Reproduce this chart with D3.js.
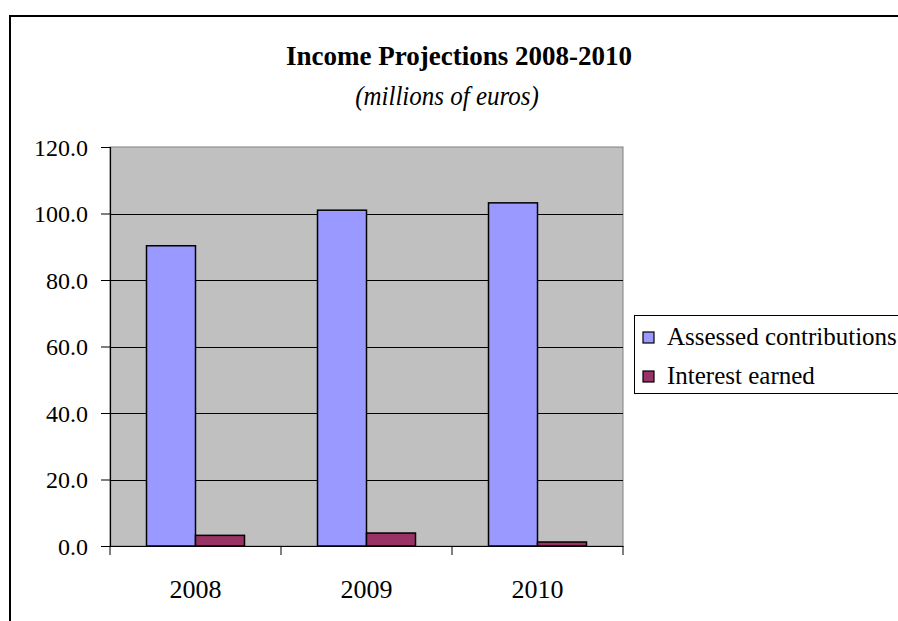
<!DOCTYPE html>
<html>
<head>
<meta charset="utf-8">
<script src="https://cdn.jsdelivr.net/npm/d3@7"></script>
<style>
  body { margin: 0; background: #fff; }
  svg { display: block; font-family: "Liberation Serif", "Times New Roman", serif; }
</style>
</head>
<body>
<div id="chart"></div>
<script>
const years = ['2008', '2009', '2010'];
const seriesNames = ['Assessed contributions', 'Interest earned'];
const assessed = [90.3, 101.0, 103.2];
const interest = [3.2, 3.9, 1.2];
const seriesColors = ['#9999FF', '#993366'];
const yTicks = [0, 20, 40, 60, 80, 100, 120];

const width = 898, height = 621;
const plot = { left: 110, top: 147, right: 623, bottom: 546 };
const serif = '"Liberation Serif", "Times New Roman", serif';

const svg = d3.select('#chart').append('svg')
    .attr('width', width)
    .attr('height', height);

// outer chart frame (runs off the right and bottom edges)
svg.append('rect')
    .attr('x', 10).attr('y', 16)
    .attr('width', 920).attr('height', 640)
    .attr('fill', '#fff')
    .attr('stroke', '#000')
    .attr('stroke-width', 2);

svg.append('text')
    .attr('x', 459).attr('y', 65)
    .attr('text-anchor', 'middle')
    .attr('font-size', 27)
    .attr('font-weight', 'bold')
    .text('Income Projections 2008-2010');

svg.append('text')
    .attr('text-anchor', 'middle')
    .attr('transform', 'translate(447,105) scale(1,1.05)')
    .attr('font-size', 25)
    .attr('font-style', 'italic')
    .text('(millions of euros)');

const x = d3.scaleBand()
    .domain(years)
    .range([plot.left, plot.right]);

const xInner = d3.scaleBand()
    .domain(seriesNames)
    .range([0, x.bandwidth()])
    .paddingOuter(0.745);

const y = d3.scaleLinear()
    .domain([0, 120])
    .range([plot.bottom, plot.top]);

svg.append('rect')
    .attr('x', plot.left).attr('y', plot.top)
    .attr('width', plot.right - plot.left)
    .attr('height', plot.bottom - plot.top)
    .attr('fill', '#C0C0C0')
    .attr('stroke', '#808080')
    .attr('stroke-width', 1);

svg.append('g')
    .selectAll('line')
    .data(yTicks.filter(d => d > 0 && d < 120))
    .join('line')
    .attr('x1', plot.left).attr('x2', plot.right)
    .attr('y1', d => Math.round(y(d)) + 0.5)
    .attr('y2', d => Math.round(y(d)) + 0.5)
    .attr('stroke', '#000')
    .attr('stroke-width', 1);

const rows = years.map((yr, i) => ({ year: yr, values: [assessed[i], interest[i]] }));

const groups = svg.append('g')
    .selectAll('g')
    .data(rows)
    .join('g')
    .attr('transform', d => `translate(${x(d.year)},0)`);

groups.selectAll('rect')
    .data(d => d.values.map((v, i) => ({ name: seriesNames[i], value: v, color: seriesColors[i] })))
    .join('rect')
    .attr('x', d => xInner(d.name))
    .attr('y', d => y(d.value))
    .attr('width', xInner.bandwidth())
    .attr('height', d => y(0) - y(d.value))
    .attr('fill', d => d.color)
    .attr('stroke', '#000')
    .attr('stroke-width', 1.5);

const yAxis = svg.append('g')
    .attr('transform', `translate(${plot.left},0)`)
    .call(d3.axisLeft(y).tickValues(yTicks).tickFormat(d3.format('.1f')).tickSize(9).tickPadding(13));

const xAxis = svg.append('g')
    .attr('transform', `translate(0,${plot.bottom})`)
    .call(d3.axisBottom(x).tickSize(0).tickPadding(52));

[yAxis, xAxis].forEach(a => {
    a.selectAll('text').attr('fill', '#000').attr('font-family', serif);
    a.selectAll('line').attr('stroke', '#000');
    a.select('.domain').attr('stroke', '#000').attr('stroke-width', 1.2);
});
yAxis.selectAll('text').attr('font-size', 24).attr('dy', '0.35em');
xAxis.selectAll('text').attr('font-size', 26).attr('dy', 0);

// category separator ticks below the axis
svg.append('g')
    .selectAll('line')
    .data(years.map(d => x(d)).concat([plot.right]))
    .join('line')
    .attr('x1', d => d).attr('x2', d => d)
    .attr('y1', plot.bottom).attr('y2', plot.bottom + 9)
    .attr('stroke', '#000');

// legend
const legend = svg.append('g').attr('transform', 'translate(634.5,315.5)');
legend.append('rect')
    .attr('width', 300).attr('height', 78)
    .attr('fill', '#fff')
    .attr('stroke', '#000')
    .attr('stroke-width', 1);

const items = legend.selectAll('g.item')
    .data(seriesNames)
    .join('g')
    .attr('class', 'item')
    .attr('transform', (d, i) => `translate(8.5,${22.5 + i * 39})`);

items.append('rect')
    .attr('x', 0).attr('y', -6)
    .attr('width', 11).attr('height', 11)
    .attr('fill', (d, i) => seriesColors[i])
    .attr('stroke', '#000')
    .attr('stroke-width', 1.2);

items.append('text')
    .attr('x', 24).attr('y', 7)
    .attr('font-size', 25)
    .text(d => d);
</script>
</body>
</html>
